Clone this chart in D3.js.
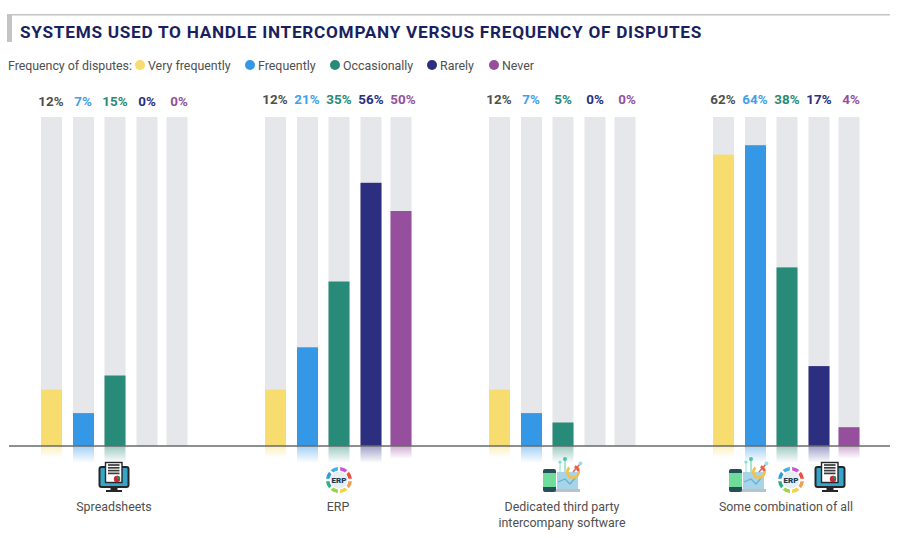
<!DOCTYPE html>
<html>
<head>
<meta charset="utf-8">
<script src="https://cdn.jsdelivr.net/npm/d3@7"></script>
<style>
  html, body { margin: 0; padding: 0; background: #fff; }
  svg { display: block; }
  text { font-family: Roboto, sans-serif; }
</style>
</head>
<body>
<script>
//Width and height
var w = 910;
var h = 538;

//Data
var categories = ["Spreadsheets", "ERP", "Dedicated third party", "Some combination of all"];
var categoryLine2 = ["", "", "intercompany software", ""];
var series = ["Very frequently", "Frequently", "Occasionally", "Rarely", "Never"];
var veryFrequently = [12, 12, 12, 62];
var frequently = [7, 21, 7, 64];
var occasionally = [15, 35, 5, 38];
var rarely = [0, 56, 0, 17];
var never = [0, 50, 0, 4];
var seriesValues = [veryFrequently, frequently, occasionally, rarely, never];
var colors = ["#f7dc6f", "#3498e6", "#288a78", "#2c2f80", "#964f9c"];
var labelColors = ["#4f4f4f", "#3fa0ea", "#288a78", "#2c2f80", "#964f9c"];

var svg = d3.select("body").append("svg").attr("width", w).attr("height", h);
var defs = svg.append("defs");

//Scales
var xGroup = d3.scalePoint().domain(categories).range([41, 713]);
var xBar = d3.scaleOrdinal().domain(series).range([0, 32, 63.5, 95.5, 125.5]);
var xLabel = d3.scalePoint().domain(series).range([10, 138]);
var yScale = d3.scaleLinear().domain([0, 70]).range([446, 117]);
var barW = 21;

//Title block
svg.append("rect").attr("x", 7).attr("y", 14).attr("width", 883).attr("height", 1.5).attr("fill", "#c4c4c6");
svg.append("rect").attr("x", 7).attr("y", 14).attr("width", 5).attr("height", 28).attr("fill", "#c4c4c6");
svg.append("text").attr("x", 20).attr("y", 37.5)
  .attr("font-size", 17.2).attr("font-weight", 700).attr("letter-spacing", 0.73)
  .attr("fill", "#1a1f5e")
  .text("SYSTEMS USED TO HANDLE INTERCOMPANY VERSUS FREQUENCY OF DISPUTES");

//Legend
var legendY = 65;
svg.append("text").attr("x", 8).attr("y", legendY + 4.5)
  .attr("font-size", 12.4).attr("fill", "#505050")
  .attr("textLength", 124)
  .text("Frequency of disputes:");
var legendDots = d3.scaleOrdinal().domain(series).range([140, 250, 335, 432, 494]);
var legend = svg.selectAll(".legend").data(series).enter().append("g").attr("class", "legend");
legend.append("circle")
  .attr("cx", function(d) { return legendDots(d); })
  .attr("cy", legendY)
  .attr("r", 5)
  .attr("fill", function(d, i) { return colors[i]; });
legend.append("text")
  .attr("x", function(d) { return legendDots(d) + 8; })
  .attr("y", legendY + 4.5)
  .attr("font-size", 12.4)
  .attr("fill", "#505050")
  .text(function(d) { return d; });

//Gradients for the reflection under each bar
colors.forEach(function(c, i) {
  var g = defs.append("linearGradient").attr("id", "fade" + i)
    .attr("x1", 0).attr("y1", 0).attr("x2", 0).attr("y2", 1);
  g.append("stop").attr("offset", 0).attr("stop-color", c).attr("stop-opacity", 0.45);
  g.append("stop").attr("offset", 1).attr("stop-color", c).attr("stop-opacity", 0);
});
var reflectH = [12, 17, 17, 17, 13];

//Bars
categories.forEach(function(cat, gi) {
  var group = svg.append("g").attr("class", "group");
  var rows = series.map(function(s, si) { return { s: s, si: si, v: seriesValues[si][gi] }; });

  group.selectAll(".track").data(rows).enter().append("rect")
    .attr("class", "track")
    .attr("x", function(d) { return xGroup(cat) + xBar(d.s); })
    .attr("y", yScale(70))
    .attr("width", barW)
    .attr("height", yScale(0) - yScale(70))
    .attr("fill", "#e6e7eb");

  group.selectAll(".bar").data(rows).enter().append("rect")
    .attr("class", "bar")
    .attr("x", function(d) { return xGroup(cat) + xBar(d.s); })
    .attr("y", function(d) { return yScale(d.v); })
    .attr("width", barW)
    .attr("height", function(d) { return yScale(0) - yScale(d.v); })
    .attr("fill", function(d) { return colors[d.si]; });

  group.selectAll(".reflect").data(rows.filter(function(d) { return d.v > 0; })).enter().append("rect")
    .attr("class", "reflect")
    .attr("x", function(d) { return xGroup(cat) + xBar(d.s); })
    .attr("y", yScale(0))
    .attr("width", barW)
    .attr("height", function(d) { return reflectH[d.si]; })
    .attr("fill", function(d) { return "url(#fade" + d.si + ")"; });

  group.selectAll(".value").data(rows).enter().append("text")
    .attr("class", "value")
    .attr("x", function(d) { return xGroup(cat) + xLabel(d.s); })
    .attr("y", gi == 0 ? 106 : 104)
    .attr("text-anchor", "middle")
    .attr("font-size", 13.4)
    .attr("font-weight", 700)
    .attr("fill", function(d) { return labelColors[d.si]; })
    .text(function(d) { return d.v + "%"; });
});

//Baseline
svg.append("line").attr("x1", 9).attr("x2", 890).attr("y1", yScale(0)).attr("y2", yScale(0))
  .attr("stroke", "#6a6a6a").attr("stroke-width", 1.5);

//Category names
var nameX = d3.scaleOrdinal().domain(categories).range([114, 338, 562, 786]);
categories.forEach(function(cat, i) {
  svg.append("text").attr("x", nameX(cat)).attr("y", 511)
    .attr("text-anchor", "middle").attr("font-size", 12.4).attr("fill", "#505050").text(cat);
  if (categoryLine2[i]) {
    svg.append("text").attr("x", nameX(cat)).attr("y", 527)
      .attr("text-anchor", "middle").attr("font-size", 12.4).attr("fill", "#505050").text(categoryLine2[i]);
  }
});

//Icons
function sheetIcon(x, y) {
  var g = svg.append("g").attr("transform", "translate(" + x + "," + y + ")");
  g.append("rect").attr("x", -14.5).attr("y", -10).attr("width", 29).attr("height", 20).attr("rx", 2)
    .attr("fill", "#35a5c8").attr("stroke", "#26262a").attr("stroke-width", 2);
  g.append("rect").attr("x", -3.5).attr("y", 10).attr("width", 7).attr("height", 4).attr("fill", "#26262a");
  g.append("rect").attr("x", -8).attr("y", 13).attr("width", 16).attr("height", 2).attr("fill", "#26262a");
  g.append("rect").attr("x", -8.5).attr("y", -14.5).attr("width", 16.5).attr("height", 20)
    .attr("fill", "#fff").attr("stroke", "#26262a").attr("stroke-width", 1.4);
  for (var i = 0; i < 4; i++) {
    g.append("line").attr("x1", -6).attr("x2", 5.5).attr("y1", -12 + i * 2.8).attr("y2", -12 + i * 2.8)
      .attr("stroke", "#3a3a3e").attr("stroke-width", 1.7);
  }
  g.append("circle").attr("cx", 3).attr("cy", 2).attr("r", 3.2).attr("fill", "#c62a3a");
  g.append("path").attr("d", "M3,2 L3,-1.2 A3.2,3.2 0 0 1 6.2,2 Z").attr("fill", "#2b8a4e");
}

function erpIcon(x, y) {
  var g = svg.append("g").attr("transform", "translate(" + x + "," + y + ")");
  var ringColors = ["#3fb0ea", "#c25ad6", "#e8503f", "#f0a050", "#f7d23c", "#9ad34a", "#2fae8a", "#2f9ed8"];
  var arc = d3.arc().innerRadius(9.5).outerRadius(13);
  var pie = d3.pie().sort(null).padAngle(0.14).value(function() { return 1; });
  g.selectAll("path").data(pie(ringColors)).enter().append("path")
    .attr("d", arc)
    .attr("transform", "rotate(-45)")
    .attr("fill", function(d) { return d.data; });
  g.append("circle").attr("r", 8.5).attr("fill", "#e4eef3");
  g.append("text").attr("y", 3).attr("text-anchor", "middle").attr("font-size", 8)
    .attr("font-weight", 900).attr("fill", "#1f3a4d").text("ERP");
}

function softwareIcon(x, y) {
  var g = svg.append("g").attr("transform", "translate(" + x + "," + y + ")");
  g.append("rect").attr("x", -5).attr("y", 14).attr("width", 25).attr("height", 3).attr("fill", "#b9c2c6");
  g.append("rect").attr("x", -3).attr("y", -3).attr("width", 21).attr("height", 17).attr("fill", "#a9d3e6");
  g.append("polyline").attr("points", "-2,7 5,4 10,9 17,1").attr("fill", "none").attr("stroke", "#5fb4d8").attr("stroke-width", 1.3);
  g.append("rect").attr("x", -17).attr("y", -6).attr("width", 13).attr("height", 23).attr("rx", 2).attr("fill", "#24505a");
  g.append("rect").attr("x", -17).attr("y", -2).attr("width", 13).attr("height", 14).attr("fill", "#6fdc9a");
  g.append("line").attr("x1", 0).attr("x2", 0).attr("y1", -3).attr("y2", -13).attr("stroke", "#a8e6df").attr("stroke-width", 1.3);
  g.append("line").attr("x1", 5).attr("x2", 5).attr("y1", -3).attr("y2", -16).attr("stroke", "#7cd6c0").attr("stroke-width", 1.3);
  g.append("circle").attr("cx", 5).attr("cy", -16).attr("r", 2).attr("fill", "#4fc3a0");
  g.append("circle").attr("cx", 0).attr("cy", -13).attr("r", 1.6).attr("fill", "#7fdcd6");
  var arc = d3.arc().innerRadius(4.2).outerRadius(7);
  g.append("path").attr("transform", "translate(13,-3)")
    .attr("d", arc({ startAngle: 1.4, endAngle: 5.6 })).attr("fill", "#f2c14e");
  g.append("path").attr("transform", "translate(13,-3)")
    .attr("d", arc({ startAngle: 0.3, endAngle: 1.4 })).attr("fill", "#e8604c");
  g.append("line").attr("x1", 13).attr("x2", 20).attr("y1", -3).attr("y2", -11).attr("stroke", "#e8604c").attr("stroke-width", 1.5);
  g.append("circle").attr("cx", 20.5).attr("cy", -11.5).attr("r", 2).attr("fill", "#8fe3ee");
}

sheetIcon(114, 477);
erpIcon(339, 480);
softwareIcon(560, 475);
softwareIcon(746, 475);
erpIcon(791, 480);
sheetIcon(830, 477);
</script>
</body>
</html>
